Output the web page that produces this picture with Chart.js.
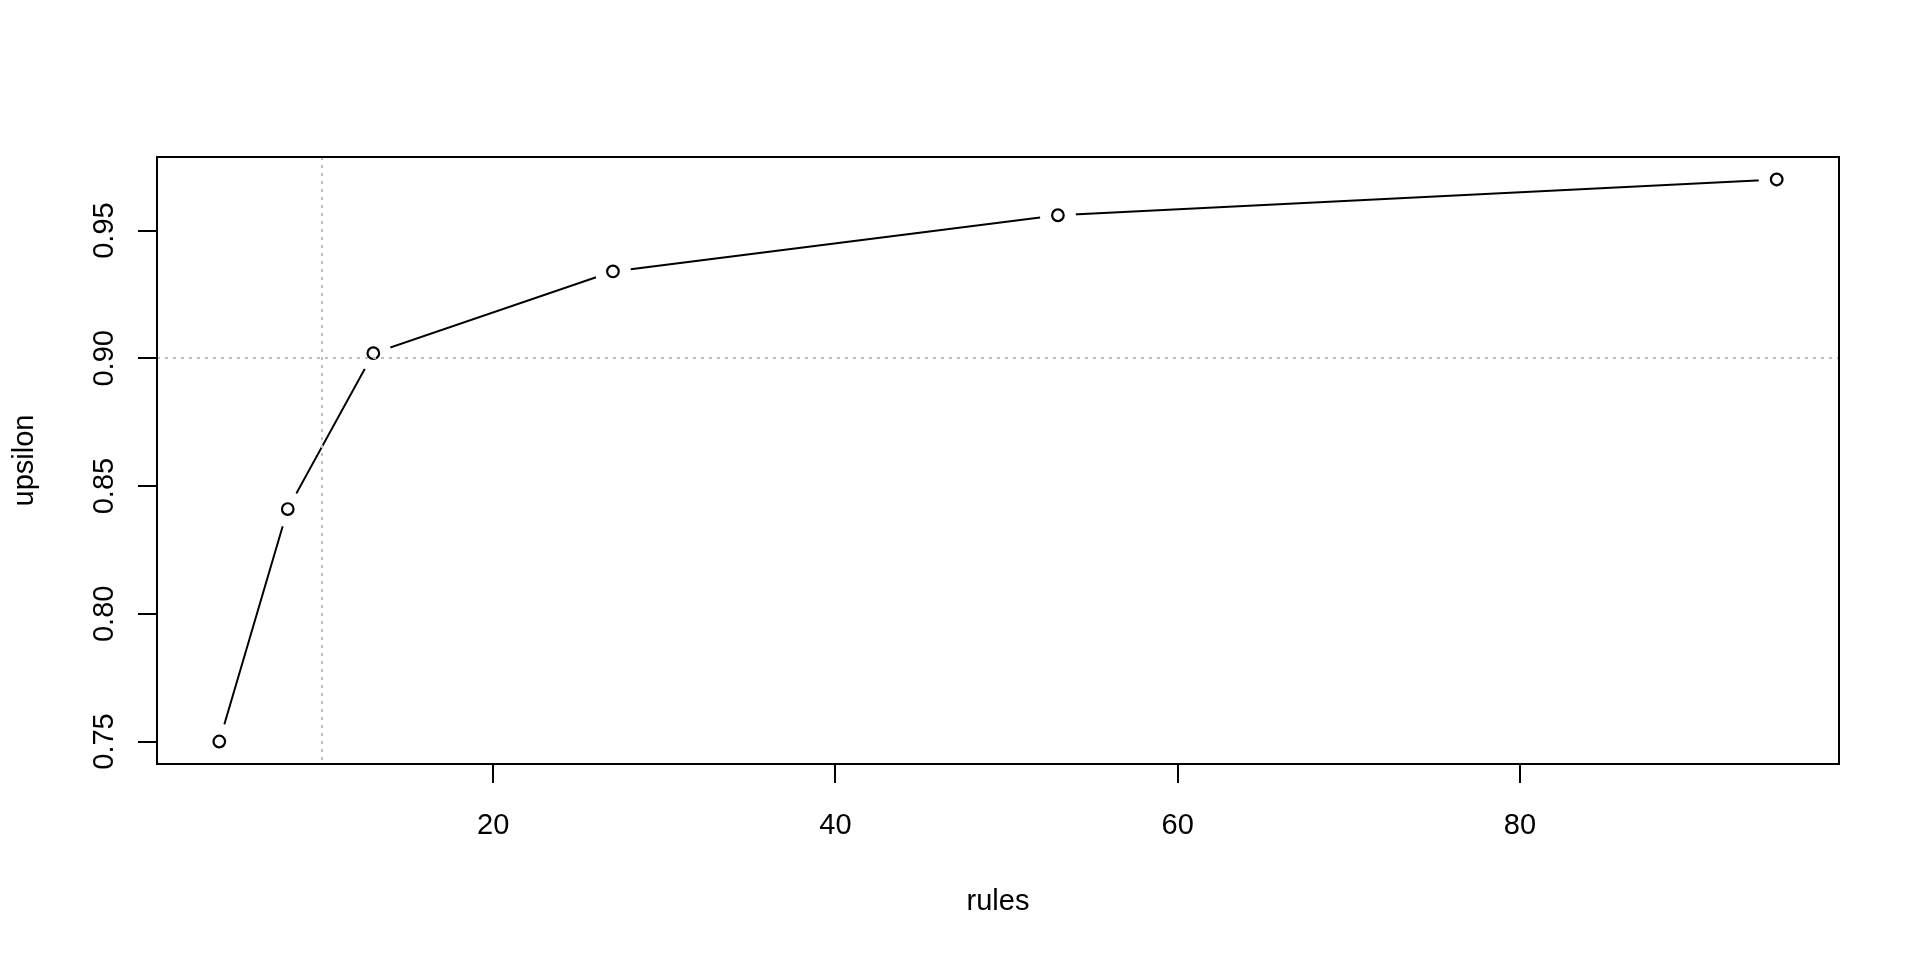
<!DOCTYPE html>
<html>
<head>
<meta charset="utf-8">
<script src="https://cdn.jsdelivr.net/npm/chart.js@4.4.1/dist/chart.umd.min.js"></script>
<style>
  body { margin: 0; background: #fff; }
  #wrap { width: 1920px; height: 960px; }
</style>
</head>
<body>
<div id="wrap"><canvas id="chart" width="1920" height="960"></canvas></div>
<script>
// data
const rules = [4, 8, 13, 27, 53, 95];
const upsilon = [0.75, 0.841, 0.902, 0.934, 0.956, 0.97];
const xTicks = [20, 40, 60, 80];
const yTicks = [0.75, 0.80, 0.85, 0.90, 0.95];
const yTickLabels = ['0.75', '0.80', '0.85', '0.90', '0.95'];
const refX = 10;
const refY = 0.9;

const points = rules.map((r, i) => ({ x: r, y: upsilon[i] }));
const FONT = '29px "Liberation Sans", Arial, sans-serif';

// R pads the data range by 4% on each side
const xPad = (Math.max(...rules) - Math.min(...rules)) * 0.04;
const yPad = (Math.max(...upsilon) - Math.min(...upsilon)) * 0.04;

const rStyle = {
  id: 'rStyle',
  afterDatasetsDraw(chart) {
    const ctx = chart.ctx;
    const a = chart.chartArea;
    const xs = chart.scales.x, ys = chart.scales.y;
    ctx.save();
    // dotted reference lines
    ctx.strokeStyle = '#bebebe';
    ctx.lineWidth = 2;
    ctx.setLineDash([3, 5]);
    const px = Math.round(xs.getPixelForValue(refX));
    const py = Math.round(ys.getPixelForValue(refY));
    ctx.beginPath();
    ctx.moveTo(px, a.top); ctx.lineTo(px, a.bottom);
    ctx.moveTo(a.left, py); ctx.lineTo(a.right, py);
    ctx.stroke();
    ctx.setLineDash([]);
    // box
    ctx.strokeStyle = '#000';
    ctx.strokeRect(a.left, a.top, a.right - a.left, a.bottom - a.top);
    // tick labels
    ctx.fillStyle = '#000';
    ctx.font = FONT;
    ctx.textAlign = 'center';
    ctx.textBaseline = 'alphabetic';
    xTicks.forEach(v => ctx.fillText(String(v), xs.getPixelForValue(v), a.bottom + 70));
    yTicks.forEach((v, i) => {
      ctx.save();
      ctx.translate(a.left - 44, ys.getPixelForValue(v));
      ctx.rotate(-Math.PI / 2);
      ctx.fillText(yTickLabels[i], 0, 0);
      ctx.restore();
    });
    // axis titles
    ctx.fillText('rules', (a.left + a.right) / 2, a.bottom + 146);
    ctx.save();
    ctx.translate(a.left - 124, (a.top + a.bottom) / 2);
    ctx.rotate(-Math.PI / 2);
    ctx.fillText('upsilon', 0, 0);
    ctx.restore();
    ctx.restore();
  }
};

new Chart(document.getElementById('chart'), {
  type: 'scatter',
  data: {
    datasets: [
      {
        data: points, showLine: true, borderColor: '#000', borderWidth: 2,
        pointRadius: 0, order: 3
      },
      {
        // white gap around each point, as in R type = "b"
        data: points, showLine: false, pointRadius: 18, borderWidth: 0,
        backgroundColor: '#fff', order: 2
      },
      {
        data: points, showLine: false, pointRadius: 5.8, borderWidth: 2.2,
        borderColor: '#000', backgroundColor: '#fff', order: 1
      }
    ]
  },
  options: {
    responsive: false,
    animation: false,
    layout: { padding: { top: 157, right: 81, left: 0, bottom: 0 } },
    plugins: { legend: { display: false }, tooltip: { enabled: false } },
    scales: {
      x: {
        type: 'linear',
        min: Math.min(...rules) - xPad,
        max: Math.max(...rules) + xPad,
        afterBuildTicks: s => { s.ticks = xTicks.map(v => ({ value: v })); },
        afterFit: s => { s.height = 196; },
        ticks: { display: false },
        grid: { drawOnChartArea: false, tickLength: 19, color: '#000', lineWidth: 2 },
        border: { display: true, color: '#000', width: 2 }
      },
      y: {
        type: 'linear',
        min: Math.min(...upsilon) - yPad,
        max: Math.max(...upsilon) + yPad,
        afterBuildTicks: s => { s.ticks = yTicks.map(v => ({ value: v })); },
        afterFit: s => { s.width = 157; },
        ticks: { display: false },
        grid: { drawOnChartArea: false, tickLength: 19, color: '#000', lineWidth: 2 },
        border: { display: true, color: '#000', width: 2 }
      }
    }
  },
  plugins: [rStyle]
});
</script>
</body>
</html>
